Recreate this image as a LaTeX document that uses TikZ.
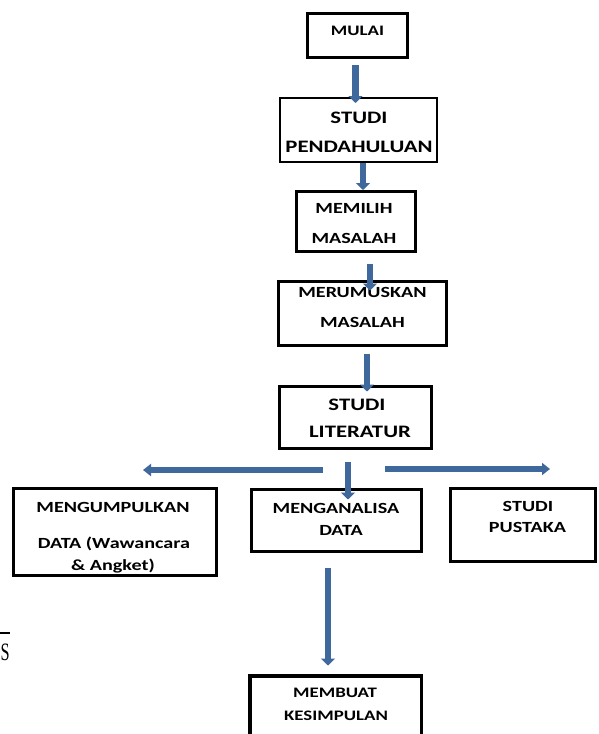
\documentclass[tikz,border=0pt]{standalone}
\usepackage{fontspec}
\usetikzlibrary{arrows.meta}
\newfontfamily\boxfont[FakeStretch=1.3]{Carlito}
\newfontfamily\strayfont[FakeStretch=0.65]{Liberation Serif}
\definecolor{arrblue}{RGB}{63,104,156}
\begin{document}
\begin{tikzpicture}[x=1pt,y=-1pt,
  box/.style={draw=black, fill=white, inner sep=0pt},
  lbl/.style={anchor=base, inner sep=0pt, font=\boxfont\bfseries\fontsize{#1}{#1}\selectfont},
  arr/.style={draw=arrblue, line width=6.5pt, -{Triangle[width=14pt,length=7pt]}},
  sidearr/.style={draw=arrblue, line width=6pt, -{Triangle[width=12pt,length=8pt]}}]
\useasboundingbox (0,0) rectangle (598,734);
\clip (0,0) rectangle (598,734);
\fill[white] (0,0) rectangle (598,734);

% boxes
\node[box, line width=3.3pt, minimum width=99.7pt, minimum height=43.7pt] (mulai) at (357.5,35.5) {};
\node[box, line width=2pt, minimum width=157pt, minimum height=64pt] (pend) at (358.5,130) {};
\node[box, line width=3.3pt, minimum width=118.7pt, minimum height=59.7pt] (memilih) at (356,221.5) {};
\node[box, line width=2.7pt, minimum width=168.3pt, minimum height=64.3pt] (merum) at (362.5,313.5) {};
\node[box, line width=3.3pt, minimum width=151.7pt, minimum height=61.7pt] (lit) at (355.5,417.5) {};
\node[box, line width=3.3pt, minimum width=202.7pt, minimum height=86.7pt] (kumpul) at (115,532) {};
\node[box, line width=2.7pt, minimum width=170.3pt, minimum height=62.3pt] (analisa) at (336.5,520.5) {};
\node[box, line width=2.7pt, minimum width=145.3pt, minimum height=73.3pt] (pustaka) at (523,525) {};
\node[box, line width=3.5pt, minimum width=171.5pt, minimum height=90pt] (membuat) at (335.5,720.75) {};

% labels
\node[lbl=14.5] (t1) at (357.5,35) {MULAI};
\node[lbl=17.5] (t2a) at (359,123) {STUDI};
\node[lbl=17.5] (t2b) at (359,152) {PENDAHULUAN};
\node[lbl=15.5] (t3a) at (354,213) {MEMILIH};
\node[lbl=15.5] (t3b) at (354,243) {MASALAH};
\node[lbl=15.5] (t4a) at (362.5,297) {MERUMUSKAN};
\node[lbl=15.5] (t4b) at (362.5,327) {MASALAH};
\node[lbl=17.5] (t5a) at (357,410) {STUDI};
\node[lbl=17.5] (t5b) at (360,437) {LITERATUR};
\node[lbl=15.5] (t6a) at (113,512) {MENGUMPULKAN};
\node[lbl=15.5] (t6b) at (114,548) {DATA (Wawancara};
\node[lbl=15.5] (t6c) at (113,570) {\& Angket)};
\node[lbl=15.5] (t7a) at (336,513) {MENGANALISA};
\node[lbl=15.5] (t7b) at (341,535) {DATA};
\node[lbl=15.5] (t8a) at (528,511) {STUDI};
\node[lbl=15.5] (t8b) at (527.5,532) {PUSTAKA};
\node[lbl=14.5] (t9a) at (335,697) {MEMBUAT};
\node[lbl=14.5] (t9b) at (336,720) {KESIMPULAN};

% connectors
\draw[arr] ([xshift=-2pt,yshift=-6pt]mulai.south) -- ([xshift=-2pt,yshift=-6pt]mulai.south |- pend.north);
\draw[arr] ([xshift=4.5pt]pend.south) -- ([xshift=4.5pt]pend.south |- memilih.north);
\draw[arr] ([xshift=14pt,yshift=-10.5pt]memilih.south) -- ([xshift=14pt,yshift=-10.5pt]memilih.south |- merum.north);
\draw[arr] ([xshift=4.5pt,yshift=-6.5pt]merum.south) -- ([xshift=4.5pt,yshift=-6.5pt]merum.south |- lit.north);
\draw[arr] ([xshift=-7.5pt,yshift=-11.5pt]lit.south) -- ([xshift=-7.5pt,yshift=-11.5pt]lit.south |- analisa.north);
\coordinate (lstart) at (323,470);
\coordinate (lend) at (143,470);
\coordinate (rstart) at (385,469);
\coordinate (rend) at (550,469);
\draw[sidearr] (lstart) -- (lend);
\draw[sidearr] (rstart) -- (rend);
\draw[arr] ([xshift=-8.5pt,yshift=-15pt]analisa.south) -- ([xshift=-7.5pt,yshift=8.5pt]membuat.north);

% stray fragment at the left edge
\coordinate (ra) at (0,633);
\coordinate (rb) at (10,633);
\draw[line width=1.6pt] (ra) -- (rb);
\node[anchor=base west, inner sep=0pt, font=\strayfont\fontsize{25}{25}\selectfont] (stray) at (0.5,660) {S};
\end{tikzpicture}
\end{document}
